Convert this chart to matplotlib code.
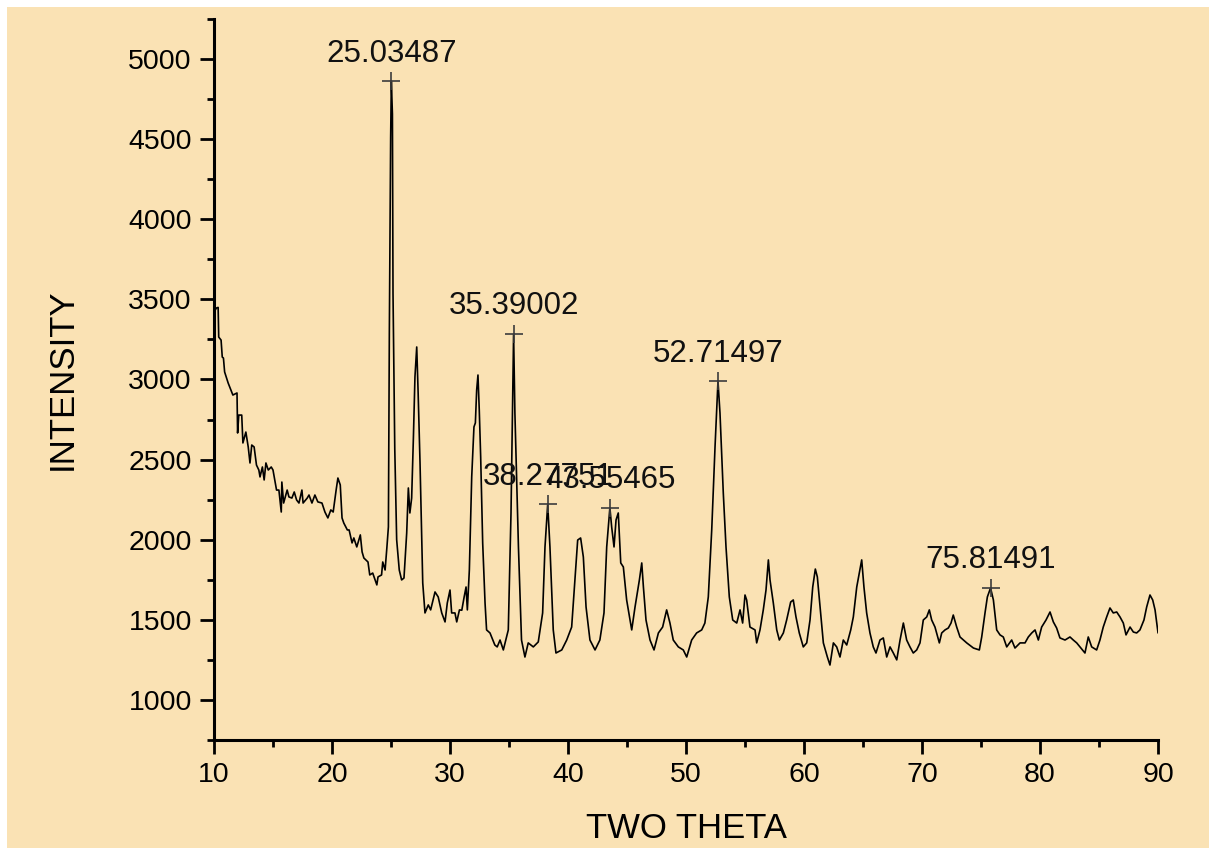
import matplotlib
matplotlib.use("Agg")
import matplotlib.pyplot as plt
from matplotlib.patches import Rectangle
from matplotlib.ticker import MultipleLocator

OUTPUT = "out.png"
BG = "#FAE2B4"

# XRD trace (two theta in degrees, intensity in counts)
two_theta = [
    10.0, 10.2, 10.35, 10.4, 10.6, 10.7, 10.8, 10.9, 11.2, 11.6, 11.95, 12.0, 12.1, 12.35,
    12.45, 12.7, 12.9, 13.05, 13.2, 13.4, 13.6, 13.8, 13.9, 14.1, 14.25, 14.4, 14.6, 14.85,
    15.0, 15.3, 15.5, 15.7, 15.75, 15.9, 16.2, 16.35, 16.6, 16.8, 17.0, 17.2, 17.45, 17.55,
    17.9, 18.05, 18.3, 18.55, 18.8, 19.15, 19.4, 19.65, 19.9, 20.1, 20.35, 20.5, 20.7, 20.85,
    21.0, 21.3, 21.45, 21.7, 21.85, 22.1, 22.4, 22.55, 22.7, 23.05, 23.2, 23.45, 23.8, 23.9,
    24.2, 24.3, 24.5, 24.65, 24.78, 24.86, 24.97, 25.03, 25.12, 25.17, 25.32, 25.48, 25.7,
    25.9, 26.1, 26.33, 26.47, 26.6, 26.75, 26.9, 27.03, 27.18, 27.3, 27.46, 27.69, 27.88,
    28.16, 28.36, 28.73, 29.0, 29.3, 29.58, 29.77, 30.0, 30.14, 30.42, 30.57, 30.8, 31.0,
    31.2, 31.36, 31.47, 31.64, 31.84, 32.03, 32.15, 32.26, 32.37, 32.48, 32.6, 32.77, 32.97,
    33.1, 33.39, 33.53, 33.8, 34.0, 34.24, 34.52, 34.94, 35.17, 35.39, 35.5, 35.8, 36.06,
    36.35, 36.63, 37.06, 37.48, 37.85, 38.05, 38.28, 38.47, 38.75, 38.98, 39.47, 39.89,
    40.31, 40.59, 40.82, 41.07, 41.3, 41.53, 41.86, 42.29, 42.7, 43.05, 43.28, 43.55, 43.7,
    43.9, 44.07, 44.26, 44.47, 44.69, 44.97, 45.4, 45.68, 46.05, 46.25, 46.39, 46.61, 46.95,
    47.29, 47.66, 48.02, 48.36, 48.64, 48.92, 49.35, 49.77, 50.06, 50.48, 50.9, 51.33, 51.6,
    51.89, 52.18, 52.46, 52.71, 52.88, 53.16, 53.39, 53.67, 53.96, 54.3, 54.58, 54.8, 55.0,
    55.14, 55.42, 55.85, 55.99, 56.27, 56.55, 56.78, 56.98, 57.12, 57.4, 57.69, 57.91, 58.25,
    58.53, 58.87, 59.09, 59.32, 59.6, 59.94, 60.23, 60.51, 60.74, 60.96, 61.13, 61.36, 61.64,
    61.98, 62.2, 62.49, 62.77, 63.05, 63.33, 63.62, 63.96, 64.18, 64.47, 64.69, 64.89, 65.08,
    65.31, 65.59, 65.87, 66.1, 66.44, 66.72, 67.01, 67.29, 67.57, 67.86, 68.14, 68.42, 68.7,
    68.98, 69.26, 69.55, 69.83, 70.11, 70.4, 70.62, 70.82, 71.1, 71.47, 71.67, 71.95, 72.23,
    72.46, 72.65, 72.94, 73.22, 73.79, 74.36, 74.86, 75.06, 75.34, 75.54, 75.81, 76.05,
    76.33, 76.61, 76.89, 77.18, 77.6, 77.88, 78.31, 78.73, 79.01, 79.3, 79.58, 79.86, 80.14,
    80.51, 80.85, 81.13, 81.41, 81.69, 82.12, 82.54, 82.82, 83.11, 83.39, 83.81, 84.09,
    84.38, 84.8, 85.08, 85.36, 85.65, 85.93, 86.21, 86.5, 86.78, 87.06, 87.29, 87.63, 87.91,
    88.19, 88.47, 88.81, 89.04, 89.32, 89.55, 89.75, 90.0,
]
intensity = [
    3420, 3446, 3450, 3265, 3246, 3140, 3134, 3047, 2978, 2903, 2916, 2666, 2778, 2778,
    2604, 2672, 2579, 2479, 2591, 2579, 2466, 2435, 2392, 2454, 2373, 2479, 2435, 2454,
    2435, 2310, 2310, 2173, 2360, 2229, 2310, 2267, 2260, 2298, 2248, 2229, 2310, 2229,
    2260, 2279, 2229, 2279, 2236, 2229, 2173, 2136, 2186, 2173, 2310, 2385, 2342, 2136,
    2104, 2061, 2061, 1980, 2011, 1955, 2030, 1924, 1886, 1861, 1780, 1792, 1718, 1768,
    1780, 1861, 1811, 1950, 2080, 3296, 4507, 4862, 4657, 3540, 2566, 2000, 1811,
    1749, 1761, 2042, 2323, 2167, 2260, 2641, 3016, 3203, 2916, 2479, 1730, 1543,
    1593, 1562, 1674, 1643, 1543, 1487, 1605, 1686, 1543, 1543, 1487, 1562, 1560,
    1643, 1705, 1562, 1811, 2392, 2704, 2729, 2934, 3028, 2810, 2516, 1980, 1605,
    1437, 1418, 1393, 1343, 1331, 1374, 1312, 1437, 2167, 3284, 2791, 1955, 1374,
    1268, 1356, 1331, 1362, 1543, 1955, 2220, 1955, 1437, 1293, 1312, 1374,
    1455, 1749, 1998, 2011, 1892, 1580, 1374, 1312, 1374, 1543, 1955, 2200, 2080,
    1955, 2123, 2167, 1855, 1830, 1624, 1437, 1580, 1749, 1855, 1705, 1499, 1374,
    1312, 1418, 1455, 1562, 1480, 1374, 1331, 1312, 1268, 1374, 1418, 1437, 1480,
    1643, 2061, 2579, 2990, 2791, 2292, 1955, 1643, 1499, 1480, 1562, 1480, 1655,
    1624, 1455, 1437, 1356, 1437, 1562, 1686, 1874, 1749, 1605, 1437, 1374, 1418,
    1499, 1611, 1624, 1518, 1418, 1331, 1356, 1499, 1705, 1817, 1768, 1580, 1356,
    1268, 1218, 1356, 1331, 1268, 1374, 1343, 1437, 1518, 1705, 1792, 1874, 1705,
    1543, 1418, 1331, 1293, 1374, 1387, 1268, 1331, 1293, 1250, 1374, 1480, 1374,
    1331, 1293, 1312, 1356, 1499, 1518, 1562, 1499, 1455, 1356, 1418, 1437, 1449,
    1480, 1530, 1455, 1393, 1356, 1324, 1312, 1393, 1543, 1643, 1699, 1624,
    1437, 1406, 1393, 1331, 1374, 1324, 1356, 1356, 1393, 1418, 1437, 1374, 1455,
    1499, 1549, 1487, 1449, 1387, 1374, 1393, 1374, 1356, 1331, 1293, 1393,
    1331, 1312, 1374, 1455, 1518, 1574, 1543, 1549, 1518, 1480, 1406, 1455, 1424,
    1418, 1437, 1499, 1580, 1655, 1624, 1562, 1420,
]

# labelled peaks
peak_theta = [25.03487, 35.39002, 38.27751, 43.55465, 52.71497, 75.81491]
peak_int = [4860, 3284, 2220, 2200, 2990, 1700]
peak_labels = ["25.03487", "35.39002", "38.27751", "43.55465", "52.71497", "75.81491"]

plt.rcParams["font.family"] = ["Liberation Sans", "DejaVu Sans"]

fig = plt.figure(figsize=(12.09, 8.48), dpi=100, facecolor="white")
fig.patches.append(Rectangle((7 / 1209, -0.05), 1.2, 1.05 - 7 / 848, transform=fig.transFigure,
                             facecolor=BG, edgecolor="none", zorder=-10))
ax = fig.add_axes([214 / 1209, 1 - 740 / 848, 944 / 1209, 721 / 848])
ax.set_facecolor(BG)
ax.patch.set_alpha(0)

ax.plot(two_theta, intensity, color="black", linewidth=1.2)

ax.plot(peak_theta, peak_int, "+", color="#3c3c3c", markersize=13, markeredgewidth=1.2)
for x, y, lab in zip(peak_theta, peak_int, peak_labels):
    ax.annotate(lab, (x, y), xytext=(0, 9), textcoords="offset points",
                ha="center", va="bottom", fontsize=22.5, color="#111111")

ax.set_xlim(10, 90)
ax.set_ylim(750, 5250)
ax.xaxis.set_major_locator(MultipleLocator(10))
ax.xaxis.set_minor_locator(MultipleLocator(5))
ax.yaxis.set_minor_locator(MultipleLocator(250))
ax.set_yticks([1000, 1500, 2000, 2500, 3000, 3500, 4000, 4500, 5000])

for side in ["top", "right"]:
    ax.spines[side].set_visible(False)
for side in ["left", "bottom"]:
    ax.spines[side].set_linewidth(2.2)

ax.tick_params(which="major", direction="out", length=10, width=2, labelsize=20.5, pad=6)
ax.tick_params(which="minor", direction="out", length=5, width=2)

ax.set_xlabel("TWO THETA", fontsize=25, labelpad=17)
ax.set_ylabel("INTENSITY", fontsize=25, labelpad=36)

plt.savefig(OUTPUT, dpi=100, facecolor=fig.get_facecolor())
